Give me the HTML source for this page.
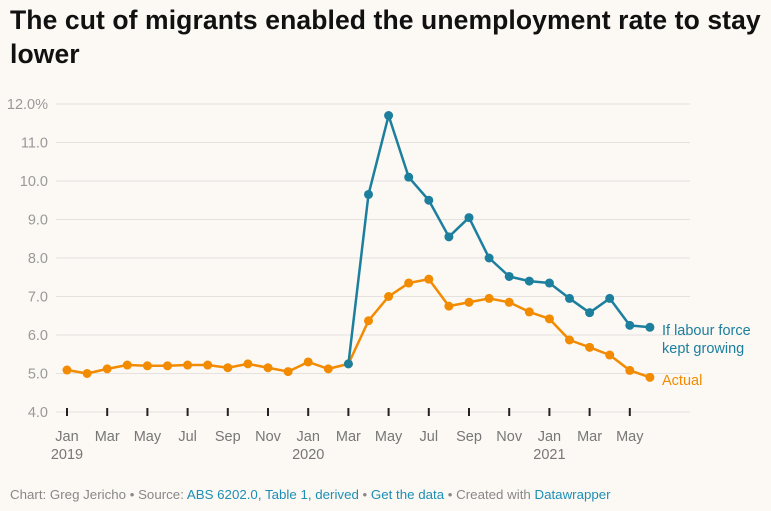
<!DOCTYPE html>
<html><head><meta charset="utf-8"><style>
body{margin:0;background:#fcf8f4;font-family:"Liberation Sans",sans-serif;}
#wrap{position:relative;width:771px;height:511px;overflow:hidden;background:#fcf8f4}
h1{position:absolute;left:10px;top:3px;margin:0;font-size:26.5px;line-height:34px;font-weight:bold;color:#111;letter-spacing:0.1px}
#foot{position:absolute;left:10px;top:487px;font-size:13.3px;color:#888}
#foot span{color:#1d8fb5}
svg{position:absolute;left:0;top:0}
</style></head><body>
<div id="wrap">
<h1>The cut of migrants enabled the unemployment rate to stay<br>lower</h1>
<svg id="chart" width="771" height="511"></svg>
<div id="foot">Chart: Greg Jericho • Source: <span>ABS 6202.0, Table 1, derived</span> • <span>Get the data</span> • Created with <span>Datawrapper</span></div>
</div>
<script>
const months = ["Jan 2019","Feb","Mar","Apr","May","Jun","Jul","Aug","Sep","Oct","Nov","Dec","Jan 2020","Feb","Mar","Apr","May","Jun","Jul","Aug","Sep","Oct","Nov","Dec","Jan 2021","Feb","Mar","Apr","May","Jun"];
const actual = [5.09,5.0,5.12,5.22,5.2,5.2,5.22,5.22,5.15,5.25,5.15,5.05,5.3,5.12,5.25,6.37,7.0,7.35,7.45,6.75,6.85,6.95,6.85,6.6,6.42,5.87,5.68,5.48,5.08,4.9];
const growing = [null,null,null,null,null,null,null,null,null,null,null,null,null,null,5.25,9.65,11.7,10.1,9.5,8.55,9.05,8.0,7.52,7.4,7.35,6.95,6.58,6.95,6.25,6.2];
const yTicks = [4,5,6,7,8,9,10,11,12];
const xTickLabels = [["Jan","2019"],["Mar",""],["May",""],["Jul",""],["Sep",""],["Nov",""],["Jan","2020"],["Mar",""],["May",""],["Jul",""],["Sep",""],["Nov",""],["Jan","2021"],["Mar",""],["May",""]];
const NS="http://www.w3.org/2000/svg";
const svg=document.getElementById('chart');
const x=i=>67+i*20.1;
const y=v=>412-(v-4)*38.5;
function mk(t,a,p){const e=document.createElementNS(NS,t);for(const k in a)e.setAttribute(k,a[k]);(p||svg).appendChild(e);return e;}
yTicks.forEach(v=>{
  const g=mk('line',{x1:56,x2:690,y1:y(v),y2:y(v),stroke:'#e4e1de','stroke-width':1});
  
  
  const t=mk('text',{x:48,y:y(v)+5,'text-anchor':'end','font-size':14.5,fill:'#999','font-family':'Liberation Sans, sans-serif'});
  t.textContent=v===12?'12.0%':v.toFixed(1);
  
  
});
xTickLabels.forEach((l,k)=>{
  const i=k*2;
  const tk=mk('line',{x1:x(i),x2:x(i),y1:408,y2:416,stroke:'#222','stroke-width':2});
  
  
  const t=mk('text',{x:x(i),y:441,'text-anchor':'middle','font-size':14.5,fill:'#777','font-family':'Liberation Sans, sans-serif'});
  t.textContent=l[0];
  
  
  if(l[1]){const t2=mk('text',{x:x(i),y:459,'text-anchor':'middle','font-size':14.5,fill:'#777','font-family':'Liberation Sans, sans-serif'});
    t2.textContent=l[1];
    
    }
});
function series(data,color,name){
  let d='';data.forEach((v,i)=>{if(v==null)return;d+=(d?'L':'M')+x(i)+','+y(v);});
  const p=mk('path',{d:d,fill:'none',stroke:color,'stroke-width':2.5,'stroke-linejoin':'round'});
  
  
  data.forEach((v,i)=>{if(v==null)return;
    const c=mk('circle',{cx:x(i),cy:y(v),r:4.5,fill:color});
    
    });
}
series(actual,'#f28b00','actual');
series(growing,'#1c7f9e','labour-force-growing');
function lab(txt,yy,color,name){const t=mk('text',{x:662,y:yy,'font-size':14.5,fill:color,'font-family':'Liberation Sans, sans-serif'});t.textContent=txt;
  
  }
lab('If labour force',335,'#1c7f9e','growing-series-label');
lab('kept growing',353,'#1c7f9e','growing-series-label-2');
lab('Actual',385,'#f28b00','actual-series-label');
</script>
</body></html>
